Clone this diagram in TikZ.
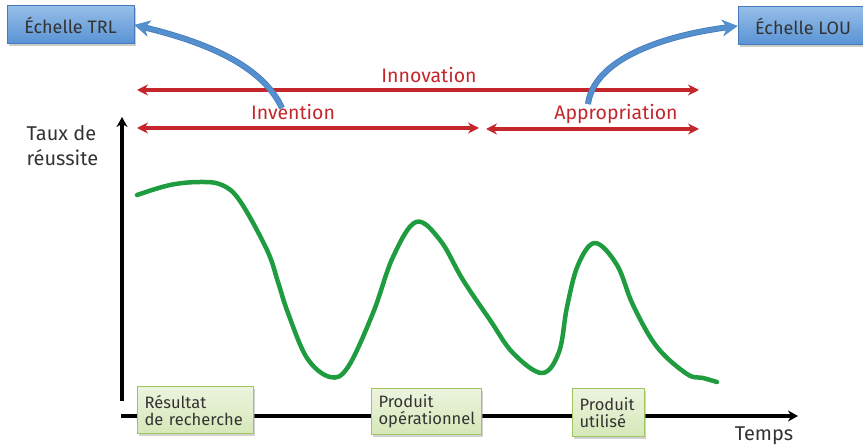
\documentclass[tikz,border=0pt]{standalone}
\usepackage{fontspec}
\setmainfont{Fira Sans}
\usetikzlibrary{arrows.meta,shadows}
\definecolor{redline}{RGB}{196,38,44}
\definecolor{greencurve}{RGB}{32,156,64}
\definecolor{bluearrow}{RGB}{84,144,206}
\definecolor{blueborder}{RGB}{70,122,186}
\definecolor{bluetop}{RGB}{150,190,232}
\definecolor{bluebot}{RGB}{88,146,212}
\definecolor{greenborder}{RGB}{160,196,96}
\definecolor{greentop}{RGB}{236,244,222}
\definecolor{greenbot}{RGB}{214,232,184}
\tikzset{
  scalebox/.style={draw=blueborder, line width=1pt, top color=bluetop, bottom color=bluebot,
    font=\fontsize{18}{20}\selectfont, text=black!80, inner sep=0pt,
    drop shadow={shadow xshift=1.5pt, shadow yshift=-2pt, fill=black!40, opacity=0.5}},
  stagebox/.style={draw=greenborder, line width=1.2pt, top color=greentop, bottom color=greenbot,
    font=\fontsize{16.5}{17}\selectfont, text=black!80, align=left, inner xsep=7pt, inner ysep=0pt, anchor=north west,
    drop shadow={shadow xshift=1.5pt, shadow yshift=-2pt, fill=black!35, opacity=0.5}},
  redarrow/.style={draw=redline, line width=3.6pt, {Stealth[length=11pt,width=11pt]}-{Stealth[length=11pt,width=11pt]}},
  redlabel/.style={text=redline, font=\fontsize{19.5}{21}\selectfont},
  bluecurve/.style={draw=bluearrow, line width=4.5pt, -{Stealth[length=15pt,width=16pt]}},
  axis/.style={draw=black, line width=4pt, -{Stealth[length=10pt,width=11pt]}},
  plainlabel/.style={text=black!80, font=\fontsize{20}{22}\selectfont}
}
\begin{document}
\begin{tikzpicture}[x=1pt,y=-1pt]
\useasboundingbox (0,0) rectangle (863,446);
% scale boxes
\node[scalebox, minimum width=127pt, minimum height=38pt] (trl) at (70.5,25) {Échelle TRL};
\node[scalebox, minimum width=130pt, minimum height=38pt] (lou) at (803,26) {Échelle LOU};
% red arrows
\coordinate (innL) at (137,90);
\coordinate (innR) at (699,90);
\coordinate (invL) at (137,128);
\coordinate (invR) at (479,128);
\coordinate (appL) at (486,129);
\coordinate (appR) at (699,129);
\draw[redarrow] (innL) -- (innR);
\draw[redarrow] (invL) -- (invR);
\draw[redarrow] (appL) -- (appR);
\node[redlabel] (innovation) at (429,75) {Innovation};
\node[redlabel] (invention) at (293,112) {Invention};
\node[redlabel] (appropriation) at (616,114) {Appropriation};
% blue curved arrows
\coordinate (trlstart) at (282,108);
\coordinate (loustart) at (588,104);
\draw[bluecurve, draw=blueborder, line width=6pt] (trlstart) .. controls (262,65) and (205,42) .. (trl.east);
\draw[bluecurve] (trlstart) .. controls (262,65) and (205,42) .. (trl.east);
\draw[bluecurve, draw=blueborder, line width=6pt] (loustart) .. controls (594,60) and (660,36) .. (lou.west);
\draw[bluecurve] (loustart) .. controls (594,60) and (660,36) .. (lou.west);
% axes
\coordinate (origin) at (122,401);
\coordinate (ytip) at (122,117);
\coordinate (xstart) at (121,416);
\coordinate (xtip) at (798,416);
\draw[axis] (origin) -- (ytip);
\draw[axis] (xstart) -- (xtip);
\node[plainlabel, align=left, anchor=north west, font=\fontsize{20}{25}\selectfont] (ylabel) at (23,122) {Taux de\\réussite};
\node[plainlabel] (xlabel) at (764,436) {Temps};
% green curve
\draw[greencurve, line width=4.5pt, line cap=round, line join=round]
  plot[smooth, tension=0.6] coordinates {(137,195) (170,185) (200,182) (222,185) (240,201) (267,250) (278,282) (288,313) (307,358) (330,377) (348,367) (373,313) (393,257) (416,222) (440,240) (463,280) (490,320) (513,353) (542,373) (559,352) (567,307) (578,265) (595,243) (617,265) (633,305) (657,347) (687,374) (703,378) (717,382)};
% stage boxes
\node[stagebox, text width=102pt, minimum height=47pt] (resultat) at (137,386) {Résultat\\de recherche};
\node[stagebox, text width=96pt, minimum height=46pt] (operationnel) at (371,388) {Produit\\opérationnel};
\node[stagebox, text width=58pt, minimum height=48pt] (utilise) at (572,388) {Produit\\utilisé};
\end{tikzpicture}
\end{document}
